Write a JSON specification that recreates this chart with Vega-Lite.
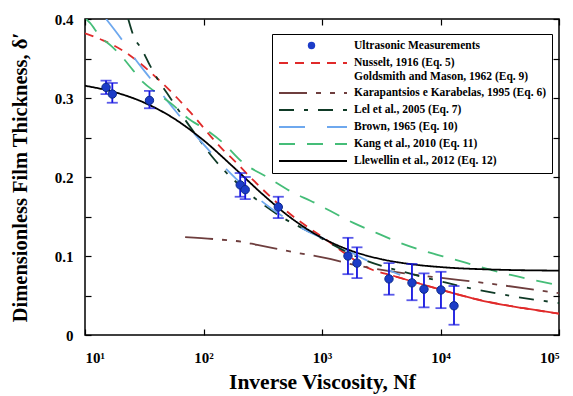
{
  "$schema": "https://vega.github.io/schema/vega-lite/v6.json",
  "width": 474,
  "height": 316,
  "autosize": "none",
  "padding": {"left": 85, "top": 19, "right": 14, "bottom": 61},
  "background": "white",
  "config": {
    "view": {"stroke": "black", "strokeWidth": 1.5},
    "axis": {"grid": false, "domain": false, "labelFont": "Liberation Serif", "labelFontWeight": "bold", "labelColor": "black", "titleFont": "Liberation Serif", "titleFontWeight": "bold", "titleColor": "black", "tickColor": "black", "tickWidth": 1.2}
  },
  "datasets": {
    "curves": [
      {"s": "Nusselt, 1916 (Eq. 5)", "nf": 10, "d": 0.382},
      {"s": "Nusselt, 1916 (Eq. 5)", "nf": 14.19, "d": 0.373},
      {"s": "Nusselt, 1916 (Eq. 5)", "nf": 17.26, "d": 0.367},
      {"s": "Nusselt, 1916 (Eq. 5)", "nf": 24.95, "d": 0.352},
      {"s": "Nusselt, 1916 (Eq. 5)", "nf": 40.6, "d": 0.325},
      {"s": "Nusselt, 1916 (Eq. 5)", "nf": 60.0, "d": 0.300},
      {"s": "Nusselt, 1916 (Eq. 5)", "nf": 77.3, "d": 0.282},
      {"s": "Nusselt, 1916 (Eq. 5)", "nf": 146.9, "d": 0.234},
      {"s": "Nusselt, 1916 (Eq. 5)", "nf": 178.2, "d": 0.222},
      {"s": "Nusselt, 1916 (Eq. 5)", "nf": 263.0, "d": 0.196},
      {"s": "Nusselt, 1916 (Eq. 5)", "nf": 510, "d": 0.156},
      {"s": "Nusselt, 1916 (Eq. 5)", "nf": 1028, "d": 0.123},
      {"s": "Nusselt, 1916 (Eq. 5)", "nf": 2716, "d": 0.082},
      {"s": "Nusselt, 1916 (Eq. 5)", "nf": 3981, "d": 0.075},
      {"s": "Nusselt, 1916 (Eq. 5)", "nf": 8750, "d": 0.060},
      {"s": "Nusselt, 1916 (Eq. 5)", "nf": 25000, "d": 0.042},
      {"s": "Nusselt, 1916 (Eq. 5)", "nf": 50119, "d": 0.034},
      {"s": "Nusselt, 1916 (Eq. 5)", "nf": 100000, "d": 0.027},

      {"s": "Karapantsios e Karabelas, 1995 (Eq. 6)", "nf": 69.98, "d": 0.124},
      {"s": "Karapantsios e Karabelas, 1995 (Eq. 6)", "nf": 120.8, "d": 0.1215},
      {"s": "Karapantsios e Karabelas, 1995 (Eq. 6)", "nf": 158.5, "d": 0.120},
      {"s": "Karapantsios e Karabelas, 1995 (Eq. 6)", "nf": 212.3, "d": 0.118},
      {"s": "Karapantsios e Karabelas, 1995 (Eq. 6)", "nf": 284.4, "d": 0.114},
      {"s": "Karapantsios e Karabelas, 1995 (Eq. 6)", "nf": 388.2, "d": 0.110},
      {"s": "Karapantsios e Karabelas, 1995 (Eq. 6)", "nf": 619.4, "d": 0.104},
      {"s": "Karapantsios e Karabelas, 1995 (Eq. 6)", "nf": 1112, "d": 0.097},
      {"s": "Karapantsios e Karabelas, 1995 (Eq. 6)", "nf": 1514, "d": 0.092},
      {"s": "Karapantsios e Karabelas, 1995 (Eq. 6)", "nf": 5248, "d": 0.0775},
      {"s": "Karapantsios e Karabelas, 1995 (Eq. 6)", "nf": 10617, "d": 0.072},
      {"s": "Karapantsios e Karabelas, 1995 (Eq. 6)", "nf": 23121, "d": 0.066},
      {"s": "Karapantsios e Karabelas, 1995 (Eq. 6)", "nf": 100000, "d": 0.053},

      {"s": "Lel et al., 2005 (Eq. 7)", "nf": 23.17, "d": 0.400},
      {"s": "Lel et al., 2005 (Eq. 7)", "nf": 25.47, "d": 0.380},
      {"s": "Lel et al., 2005 (Eq. 7)", "nf": 30.34, "d": 0.361},
      {"s": "Lel et al., 2005 (Eq. 7)", "nf": 35.40, "d": 0.341},
      {"s": "Lel et al., 2005 (Eq. 7)", "nf": 41.40, "d": 0.323},
      {"s": "Lel et al., 2005 (Eq. 7)", "nf": 49.32, "d": 0.306},
      {"s": "Lel et al., 2005 (Eq. 7)", "nf": 59.98, "d": 0.287},
      {"s": "Lel et al., 2005 (Eq. 7)", "nf": 67.30, "d": 0.276},
      {"s": "Lel et al., 2005 (Eq. 7)", "nf": 88.51, "d": 0.251},
      {"s": "Lel et al., 2005 (Eq. 7)", "nf": 120.8, "d": 0.224},
      {"s": "Lel et al., 2005 (Eq. 7)", "nf": 238.8, "d": 0.180},
      {"s": "Lel et al., 2005 (Eq. 7)", "nf": 472.1, "d": 0.148},
      {"s": "Lel et al., 2005 (Eq. 7)", "nf": 798.0, "d": 0.130},
      {"s": "Lel et al., 2005 (Eq. 7)", "nf": 1247, "d": 0.114},
      {"s": "Lel et al., 2005 (Eq. 7)", "nf": 2113, "d": 0.097},
      {"s": "Lel et al., 2005 (Eq. 7)", "nf": 5272, "d": 0.0785},
      {"s": "Lel et al., 2005 (Eq. 7)", "nf": 10617, "d": 0.067},
      {"s": "Lel et al., 2005 (Eq. 7)", "nf": 15668, "d": 0.061},
      {"s": "Lel et al., 2005 (Eq. 7)", "nf": 44875, "d": 0.048},
      {"s": "Lel et al., 2005 (Eq. 7)", "nf": 100000, "d": 0.0405},

      {"s": "Brown, 1965 (Eq. 10)", "nf": 15.07, "d": 0.400},
      {"s": "Brown, 1965 (Eq. 10)", "nf": 20.89, "d": 0.372},
      {"s": "Brown, 1965 (Eq. 10)", "nf": 26.30, "d": 0.350},
      {"s": "Brown, 1965 (Eq. 10)", "nf": 35.48, "d": 0.325},
      {"s": "Brown, 1965 (Eq. 10)", "nf": 44.67, "d": 0.305},
      {"s": "Brown, 1965 (Eq. 10)", "nf": 54.95, "d": 0.288},
      {"s": "Brown, 1965 (Eq. 10)", "nf": 81.28, "d": 0.257},
      {"s": "Brown, 1965 (Eq. 10)", "nf": 120.2, "d": 0.228},
      {"s": "Brown, 1965 (Eq. 10)", "nf": 151.4, "d": 0.212},
      {"s": "Brown, 1965 (Eq. 10)", "nf": 331.1, "d": 0.166},
      {"s": "Brown, 1965 (Eq. 10)", "nf": 512.9, "d": 0.146},
      {"s": "Brown, 1965 (Eq. 10)", "nf": 660.7, "d": 0.136},
      {"s": "Brown, 1965 (Eq. 10)", "nf": 1175, "d": 0.118},
      {"s": "Brown, 1965 (Eq. 10)", "nf": 2951, "d": 0.088},
      {"s": "Brown, 1965 (Eq. 10)", "nf": 4571, "d": 0.076},

      {"s": "Kang et al., 2010 (Eq. 11)", "nf": 10.23, "d": 0.400},
      {"s": "Kang et al., 2010 (Eq. 11)", "nf": 11.02, "d": 0.395},
      {"s": "Kang et al., 2010 (Eq. 11)", "nf": 13.40, "d": 0.378},
      {"s": "Kang et al., 2010 (Eq. 11)", "nf": 16.90, "d": 0.365},
      {"s": "Kang et al., 2010 (Eq. 11)", "nf": 20.56, "d": 0.352},
      {"s": "Kang et al., 2010 (Eq. 11)", "nf": 25.47, "d": 0.335},
      {"s": "Kang et al., 2010 (Eq. 11)", "nf": 30.90, "d": 0.320},
      {"s": "Kang et al., 2010 (Eq. 11)", "nf": 38.90, "d": 0.308},
      {"s": "Kang et al., 2010 (Eq. 11)", "nf": 55.46, "d": 0.291},
      {"s": "Kang et al., 2010 (Eq. 11)", "nf": 72.78, "d": 0.275},
      {"s": "Kang et al., 2010 (Eq. 11)", "nf": 107.4, "d": 0.259},
      {"s": "Kang et al., 2010 (Eq. 11)", "nf": 146.9, "d": 0.243},
      {"s": "Kang et al., 2010 (Eq. 11)", "nf": 212.3, "d": 0.219},
      {"s": "Kang et al., 2010 (Eq. 11)", "nf": 352.4, "d": 0.199},
      {"s": "Kang et al., 2010 (Eq. 11)", "nf": 572.8, "d": 0.180},
      {"s": "Kang et al., 2010 (Eq. 11)", "nf": 798.0, "d": 0.170},
      {"s": "Kang et al., 2010 (Eq. 11)", "nf": 1841, "d": 0.142},
      {"s": "Kang et al., 2010 (Eq. 11)", "nf": 3119, "d": 0.127},
      {"s": "Kang et al., 2010 (Eq. 11)", "nf": 4335, "d": 0.118},
      {"s": "Kang et al., 2010 (Eq. 11)", "nf": 7780, "d": 0.105},
      {"s": "Kang et al., 2010 (Eq. 11)", "nf": 12912, "d": 0.096},
      {"s": "Kang et al., 2010 (Eq. 11)", "nf": 21827, "d": 0.086},
      {"s": "Kang et al., 2010 (Eq. 11)", "nf": 39174, "d": 0.076},
      {"s": "Kang et al., 2010 (Eq. 11)", "nf": 100000, "d": 0.063},

      {"s": "Llewellin et al., 2012 (Eq. 12)", "nf": 10, "d": 0.3155},
      {"s": "Llewellin et al., 2012 (Eq. 12)", "nf": 17.78, "d": 0.3074},
      {"s": "Llewellin et al., 2012 (Eq. 12)", "nf": 31.62, "d": 0.2941},
      {"s": "Llewellin et al., 2012 (Eq. 12)", "nf": 56.23, "d": 0.2741},
      {"s": "Llewellin et al., 2012 (Eq. 12)", "nf": 100, "d": 0.2465},
      {"s": "Llewellin et al., 2012 (Eq. 12)", "nf": 177.8, "d": 0.2129},
      {"s": "Llewellin et al., 2012 (Eq. 12)", "nf": 316.2, "d": 0.1780},
      {"s": "Llewellin et al., 2012 (Eq. 12)", "nf": 562.3, "d": 0.1469},
      {"s": "Llewellin et al., 2012 (Eq. 12)", "nf": 1000, "d": 0.1230},
      {"s": "Llewellin et al., 2012 (Eq. 12)", "nf": 1778, "d": 0.1065},
      {"s": "Llewellin et al., 2012 (Eq. 12)", "nf": 3162, "d": 0.0960},
      {"s": "Llewellin et al., 2012 (Eq. 12)", "nf": 5623, "d": 0.0897},
      {"s": "Llewellin et al., 2012 (Eq. 12)", "nf": 10000, "d": 0.0860},
      {"s": "Llewellin et al., 2012 (Eq. 12)", "nf": 31623, "d": 0.0826},
      {"s": "Llewellin et al., 2012 (Eq. 12)", "nf": 100000, "d": 0.0815}
    ],
    "gm": [
      {"nf": 3981, "d": 0.075},
      {"nf": 8750, "d": 0.060},
      {"nf": 25000, "d": 0.042},
      {"nf": 50119, "d": 0.034},
      {"nf": 100000, "d": 0.027}
    ],
    "pts": [
      {"k": "Ultrasonic Measurements", "nf": 15.05, "d": 0.3135, "lo": 0.305, "hi": 0.322},
      {"k": "Ultrasonic Measurements", "nf": 17.0, "d": 0.305, "lo": 0.294, "hi": 0.319},
      {"k": "Ultrasonic Measurements", "nf": 35.0, "d": 0.297, "lo": 0.287, "hi": 0.309},
      {"k": "Ultrasonic Measurements", "nf": 204, "d": 0.190, "lo": 0.175, "hi": 0.205},
      {"k": "Ultrasonic Measurements", "nf": 225, "d": 0.184, "lo": 0.172, "hi": 0.200},
      {"k": "Ultrasonic Measurements", "nf": 428, "d": 0.162, "lo": 0.148, "hi": 0.175},
      {"k": "Ultrasonic Measurements", "nf": 1656, "d": 0.100, "lo": 0.077, "hi": 0.123},
      {"k": "Ultrasonic Measurements", "nf": 1973, "d": 0.091, "lo": 0.072, "hi": 0.111},
      {"k": "Ultrasonic Measurements", "nf": 3675, "d": 0.071, "lo": 0.051, "hi": 0.091},
      {"k": "Ultrasonic Measurements", "nf": 5744, "d": 0.066, "lo": 0.044, "hi": 0.090},
      {"k": "Ultrasonic Measurements", "nf": 7255, "d": 0.058, "lo": 0.035, "hi": 0.078},
      {"k": "Ultrasonic Measurements", "nf": 10090, "d": 0.057, "lo": 0.034, "hi": 0.080},
      {"k": "Ultrasonic Measurements", "nf": 13000, "d": 0.037, "lo": 0.013, "hi": 0.062}
    ]
  },
  "layer": [
    {
      "data": {"name": "curves"},
      "mark": {"type": "line", "strokeWidth": 1.8, "interpolate": "monotone", "clip": true},
      "encoding": {
        "x": {"field": "nf", "type": "quantitative",
          "scale": {"type": "log", "domain": [10, 100000], "nice": false},
          "axis": {"orient": "bottom", "values": [10, 100, 1000, 10000, 100000], "tickSize": -6, "labelPadding": 21, "labelFontSize": 15,
            "labelExpr": "'10' + ['⁰','¹','²','³','⁴','⁵'][round(log(datum.value)/LN10)]",
            "title": "Inverse Viscosity, Nf", "titleFontSize": 21.5, "titlePadding": 6}},
        "y": {"field": "d", "type": "quantitative",
          "scale": {"domain": [0, 0.4], "nice": false, "zero": false},
          "axis": {"orient": "left", "values": [0, 0.05, 0.1, 0.15, 0.2, 0.25, 0.3, 0.35, 0.4], "tickSize": -6, "labelPadding": 18, "labelFontSize": 15,
            "labelExpr": "(round(datum.value*100) % 10 == 0) ? format(datum.value, '~g') : ''",
            "title": "Dimensionless Film Thickness, δ′", "titleFontSize": 20.5, "titlePadding": 24}},
        "color": {"field": "s", "type": "nominal", "title": null,
          "scale": {
            "domain": ["Ultrasonic Measurements", "Nusselt, 1916 (Eq. 5)", "Karapantsios e Karabelas, 1995 (Eq. 6)", "Lel et al., 2005 (Eq. 7)", "Brown, 1965 (Eq. 10)", "Kang et al., 2010 (Eq. 11)", "Llewellin et al., 2012 (Eq. 12)"],
            "range": ["rgba(0,0,0,0)", "#e02a2a", "#6e3e3e", "#0f3a26", "#6ea8ee", "#45bd78", "#000000"]},
          "legend": {"orient": "none", "legendX": 187, "legendY": 15, "symbolType": "M-1,0L12.6,0", "symbolSize": 100, "symbolStrokeWidth": 2,
            "labelFont": "Liberation Serif", "labelFontWeight": "bold", "labelFontSize": 11.5, "labelColor": "black", "labelLimit": 320, "labelOffset": 64,
            "strokeColor": "black", "fillColor": "white", "padding": 6, "rowPadding": 5,
            "labelExpr": "datum.label == 'Nusselt, 1916 (Eq. 5)' ? ['Nusselt, 1916 (Eq. 5)', 'Goldsmith and Mason, 1962 (Eq. 9)'] : datum.label"}},
        "strokeDash": {"field": "s", "type": "nominal", "title": null,
          "scale": {
            "domain": ["Ultrasonic Measurements", "Nusselt, 1916 (Eq. 5)", "Karapantsios e Karabelas, 1995 (Eq. 6)", "Lel et al., 2005 (Eq. 7)", "Brown, 1965 (Eq. 10)", "Kang et al., 2010 (Eq. 11)", "Llewellin et al., 2012 (Eq. 12)"],
            "range": [[1, 0], [9, 7], [28, 9, 5, 9, 5, 9], [15, 10, 4, 10], [26, 22], [16, 12], [1, 0]]}}
      }
    },
    {
      "data": {"name": "gm"},
      "mark": {"type": "line", "strokeWidth": 1.8, "interpolate": "monotone", "color": "#e02a2a", "clip": true},
      "encoding": {
        "x": {"field": "nf", "type": "quantitative", "scale": {"type": "log", "domain": [10, 100000], "nice": false},
          "axis": {"orient": "top", "values": [10, 100, 1000, 10000, 100000], "tickSize": -6, "labels": false, "title": null}},
        "y": {"field": "d", "type": "quantitative", "scale": {"domain": [0, 0.4], "nice": false, "zero": false},
          "axis": {"orient": "right", "values": [0, 0.05, 0.1, 0.15, 0.2, 0.25, 0.3, 0.35, 0.4], "tickSize": -6, "labels": false, "title": null}}
      }
    },
    {
      "data": {"name": "pts"},
      "mark": {"type": "rule", "color": "#1414e0", "strokeWidth": 1.8},
      "encoding": {
        "x": {"field": "nf", "type": "quantitative", "scale": {"type": "log", "domain": [10, 100000], "nice": false}, "axis": null},
        "y": {"field": "lo", "type": "quantitative", "scale": {"domain": [0, 0.4], "nice": false, "zero": false}, "axis": null},
        "y2": {"field": "hi"}
      }
    },
    {
      "data": {"name": "pts"},
      "mark": {"type": "tick", "orient": "horizontal", "color": "#1414e0", "size": 11, "thickness": 1.8},
      "encoding": {
        "x": {"field": "nf", "type": "quantitative", "scale": {"type": "log", "domain": [10, 100000], "nice": false}, "axis": null},
        "y": {"field": "lo", "type": "quantitative", "scale": {"domain": [0, 0.4], "nice": false, "zero": false}, "axis": null}
      }
    },
    {
      "data": {"name": "pts"},
      "mark": {"type": "tick", "orient": "horizontal", "color": "#1414e0", "size": 11, "thickness": 1.8},
      "encoding": {
        "x": {"field": "nf", "type": "quantitative", "scale": {"type": "log", "domain": [10, 100000], "nice": false}, "axis": null},
        "y": {"field": "hi", "type": "quantitative", "scale": {"domain": [0, 0.4], "nice": false, "zero": false}, "axis": null}
      }
    },
    {
      "data": {"name": "pts"},
      "mark": {"type": "point", "filled": true, "color": "#1c3cc8", "size": 70, "opacity": 1, "stroke": "#0c2a8a", "strokeWidth": 1},
      "encoding": {
        "x": {"field": "nf", "type": "quantitative", "scale": {"type": "log", "domain": [10, 100000], "nice": false}, "axis": null},
        "y": {"field": "d", "type": "quantitative", "scale": {"domain": [0, 0.4], "nice": false, "zero": false}, "axis": null},
        "shape": {"field": "k", "type": "nominal", "title": null, "scale": {"range": ["circle"]},
          "legend": {"orient": "none", "legendX": 222, "legendY": 22, "zindex": 5, "labelExpr": "''", "labelFontSize": 1, "padding": 0,
            "symbolSize": 55, "symbolFillColor": "#1c3cc8", "symbolStrokeColor": "#1c3cc8", "symbolOpacity": 1}}
      }
    }
  ]
}
